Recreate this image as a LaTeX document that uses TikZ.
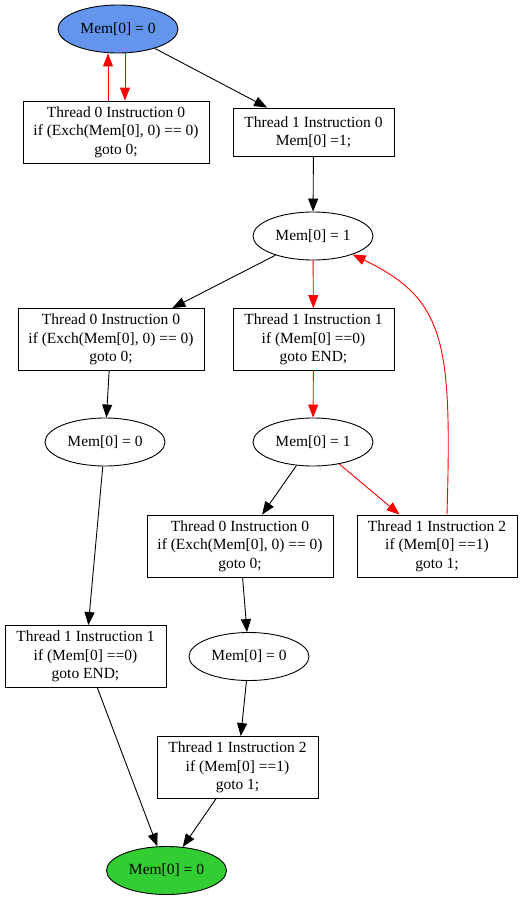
\documentclass[tikz,border=0pt]{standalone}
\usepackage{fontspec}
\setmainfont{Liberation Serif}
\usetikzlibrary{shapes.geometric,arrows.meta}
\definecolor{startblue}{RGB}{100,149,237}
\definecolor{endgreen}{RGB}{50,205,50}
\begin{document}
\begin{tikzpicture}[x=1pt,y=-1pt,
  every node/.style={font=\fontsize{15.5}{18.3}\selectfont, inner sep=0pt, align=center},
  state/.style={ellipse, draw, line width=0.9pt, minimum width=120pt, minimum height=48pt},
  instr/.style={rectangle, draw, line width=0.9pt, minimum height=62pt},
  edge/.style={line width=0.9pt, -{Triangle[length=13pt,width=10pt]}},
  redge/.style={edge, red}]
\useasboundingbox (0,0) rectangle (531,900);
\node[state, fill=startblue] (A) at (118,29) {Mem[0] = 0};
\node[instr, minimum width=186pt] (B) at (116,132) {Thread 0 Instruction 0\\if (Exch(Mem[0], 0) == 0)\\goto 0;};
\node[instr, minimum width=161pt, minimum height=48pt] (C) at (313.5,132) {Thread 1 Instruction 0\\Mem[0] =1;};
\node[state] (D) at (313,236) {Mem[0] = 1};
\node[instr, minimum width=186pt] (E) at (111,339.5) {Thread 0 Instruction 0\\if (Exch(Mem[0], 0) == 0)\\goto 0;};
\node[instr, minimum width=161pt] (F) at (313.5,339.5) {Thread 1 Instruction 1\\if (Mem[0] ==0)\\goto END;};
\node[state] (G) at (105,442) {Mem[0] = 0};
\node[state] (H) at (313,442) {Mem[0] = 1};
\node[instr, minimum width=186pt] (I) at (240,546) {Thread 0 Instruction 0\\if (Exch(Mem[0], 0) == 0)\\goto 0;};
\node[instr, minimum width=160pt] (J) at (437,546) {Thread 1 Instruction 2\\if (Mem[0] ==1)\\goto 1;};
\node[instr, minimum width=161pt] (K) at (85.5,656.5) {Thread 1 Instruction 1\\if (Mem[0] ==0)\\goto END;};
\node[state] (L) at (249,656.5) {Mem[0] = 0};
\node[instr, minimum width=161pt] (M) at (237.5,767.5) {Thread 1 Instruction 2\\if (Mem[0] ==1)\\goto 1;};
\node[state, fill=endgreen] (N) at (166.5,870.5) {Mem[0] = 0};

\draw[edge] (A) -- (C);
\draw[redge] ([xshift=7pt]A.south) -- ([xshift=9pt]B.north);
\draw[redge] ([xshift=-8pt]B.north) -- ([xshift=-10pt]A.south);
\draw[edge] (C) -- (D);
\draw[edge] (D) -- (E);
\draw[redge] (D) -- (F);
\draw[edge] (E) -- (G);
\draw[redge] (F) -- (H);
\draw[edge] (G) -- (K);
\draw[edge] (H) -- (I);
\draw[redge] (H) -- (J);
\draw[redge] ([xshift=10pt]J.north) .. controls +(5,-173) and +(93,45) .. (D.-25);
\draw[edge] (I) -- (L);
\draw[edge] (L) -- (M);
\draw[edge] (K) -- (N);
\draw[edge] (M) -- (N);
\end{tikzpicture}
\end{document}
